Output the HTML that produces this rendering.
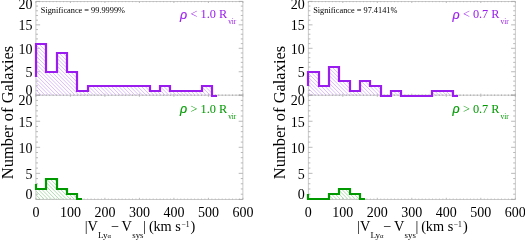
<!DOCTYPE html>
<html><head><meta charset="utf-8"><title>Histograms</title>
<style>
html,body{margin:0;padding:0;background:#fff;}
body{width:525px;height:240px;overflow:hidden;font-family:"Liberation Serif",serif;}
svg{display:block;will-change:transform;font-family:"Liberation Serif",serif;}
</style></head><body>
<svg width="525" height="240" viewBox="0 0 525 240">
<rect width="525" height="240" fill="#fff"/>
<g stroke="#bdbdbd" stroke-width="0.8" fill="none">
<rect x="35.90" y="1.40" width="207.00" height="198.00"/>
<line x1="35.90" y1="95.20" x2="242.90" y2="95.20"/>
<path stroke="#a8a8a8" d="M35.90 1.40v1.60M35.90 93.60v3.20M35.90 199.40v-1.60M39.35 1.40v0.80M39.35 94.40v1.60M39.35 199.40v-0.80M42.80 1.40v0.80M42.80 94.40v1.60M42.80 199.40v-0.80M46.25 1.40v0.80M46.25 94.40v1.60M46.25 199.40v-0.80M49.70 1.40v0.80M49.70 94.40v1.60M49.70 199.40v-0.80M53.15 1.40v0.80M53.15 94.40v1.60M53.15 199.40v-0.80M56.60 1.40v0.80M56.60 94.40v1.60M56.60 199.40v-0.80M60.05 1.40v0.80M60.05 94.40v1.60M60.05 199.40v-0.80M63.50 1.40v0.80M63.50 94.40v1.60M63.50 199.40v-0.80M66.95 1.40v0.80M66.95 94.40v1.60M66.95 199.40v-0.80M70.40 1.40v1.60M70.40 93.60v3.20M70.40 199.40v-1.60M73.85 1.40v0.80M73.85 94.40v1.60M73.85 199.40v-0.80M77.30 1.40v0.80M77.30 94.40v1.60M77.30 199.40v-0.80M80.75 1.40v0.80M80.75 94.40v1.60M80.75 199.40v-0.80M84.20 1.40v0.80M84.20 94.40v1.60M84.20 199.40v-0.80M87.65 1.40v0.80M87.65 94.40v1.60M87.65 199.40v-0.80M91.10 1.40v0.80M91.10 94.40v1.60M91.10 199.40v-0.80M94.55 1.40v0.80M94.55 94.40v1.60M94.55 199.40v-0.80M98.00 1.40v0.80M98.00 94.40v1.60M98.00 199.40v-0.80M101.45 1.40v0.80M101.45 94.40v1.60M101.45 199.40v-0.80M104.90 1.40v1.60M104.90 93.60v3.20M104.90 199.40v-1.60M108.35 1.40v0.80M108.35 94.40v1.60M108.35 199.40v-0.80M111.80 1.40v0.80M111.80 94.40v1.60M111.80 199.40v-0.80M115.25 1.40v0.80M115.25 94.40v1.60M115.25 199.40v-0.80M118.70 1.40v0.80M118.70 94.40v1.60M118.70 199.40v-0.80M122.15 1.40v0.80M122.15 94.40v1.60M122.15 199.40v-0.80M125.60 1.40v0.80M125.60 94.40v1.60M125.60 199.40v-0.80M129.05 1.40v0.80M129.05 94.40v1.60M129.05 199.40v-0.80M132.50 1.40v0.80M132.50 94.40v1.60M132.50 199.40v-0.80M135.95 1.40v0.80M135.95 94.40v1.60M135.95 199.40v-0.80M139.40 1.40v1.60M139.40 93.60v3.20M139.40 199.40v-1.60M142.85 1.40v0.80M142.85 94.40v1.60M142.85 199.40v-0.80M146.30 1.40v0.80M146.30 94.40v1.60M146.30 199.40v-0.80M149.75 1.40v0.80M149.75 94.40v1.60M149.75 199.40v-0.80M153.20 1.40v0.80M153.20 94.40v1.60M153.20 199.40v-0.80M156.65 1.40v0.80M156.65 94.40v1.60M156.65 199.40v-0.80M160.10 1.40v0.80M160.10 94.40v1.60M160.10 199.40v-0.80M163.55 1.40v0.80M163.55 94.40v1.60M163.55 199.40v-0.80M167.00 1.40v0.80M167.00 94.40v1.60M167.00 199.40v-0.80M170.45 1.40v0.80M170.45 94.40v1.60M170.45 199.40v-0.80M173.90 1.40v1.60M173.90 93.60v3.20M173.90 199.40v-1.60M177.35 1.40v0.80M177.35 94.40v1.60M177.35 199.40v-0.80M180.80 1.40v0.80M180.80 94.40v1.60M180.80 199.40v-0.80M184.25 1.40v0.80M184.25 94.40v1.60M184.25 199.40v-0.80M187.70 1.40v0.80M187.70 94.40v1.60M187.70 199.40v-0.80M191.15 1.40v0.80M191.15 94.40v1.60M191.15 199.40v-0.80M194.60 1.40v0.80M194.60 94.40v1.60M194.60 199.40v-0.80M198.05 1.40v0.80M198.05 94.40v1.60M198.05 199.40v-0.80M201.50 1.40v0.80M201.50 94.40v1.60M201.50 199.40v-0.80M204.95 1.40v0.80M204.95 94.40v1.60M204.95 199.40v-0.80M208.40 1.40v1.60M208.40 93.60v3.20M208.40 199.40v-1.60M211.85 1.40v0.80M211.85 94.40v1.60M211.85 199.40v-0.80M215.30 1.40v0.80M215.30 94.40v1.60M215.30 199.40v-0.80M218.75 1.40v0.80M218.75 94.40v1.60M218.75 199.40v-0.80M222.20 1.40v0.80M222.20 94.40v1.60M222.20 199.40v-0.80M225.65 1.40v0.80M225.65 94.40v1.60M225.65 199.40v-0.80M229.10 1.40v0.80M229.10 94.40v1.60M229.10 199.40v-0.80M232.55 1.40v0.80M232.55 94.40v1.60M232.55 199.40v-0.80M236.00 1.40v0.80M236.00 94.40v1.60M236.00 199.40v-0.80M239.45 1.40v0.80M239.45 94.40v1.60M239.45 199.40v-0.80M242.90 1.40v1.60M242.90 93.60v3.20M242.90 199.40v-1.60M35.90 95.20h4.20M242.90 95.20h-4.20M35.90 199.40h4.20M242.90 199.40h-4.20M35.90 90.51h2.10M242.90 90.51h-2.10M35.90 194.19h2.10M242.90 194.19h-2.10M35.90 85.82h2.10M242.90 85.82h-2.10M35.90 188.98h2.10M242.90 188.98h-2.10M35.90 81.13h2.10M242.90 81.13h-2.10M35.90 183.77h2.10M242.90 183.77h-2.10M35.90 76.44h2.10M242.90 76.44h-2.10M35.90 178.56h2.10M242.90 178.56h-2.10M35.90 71.75h4.20M242.90 71.75h-4.20M35.90 173.35h4.20M242.90 173.35h-4.20M35.90 67.06h2.10M242.90 67.06h-2.10M35.90 168.14h2.10M242.90 168.14h-2.10M35.90 62.37h2.10M242.90 62.37h-2.10M35.90 162.93h2.10M242.90 162.93h-2.10M35.90 57.68h2.10M242.90 57.68h-2.10M35.90 157.72h2.10M242.90 157.72h-2.10M35.90 52.99h2.10M242.90 52.99h-2.10M35.90 152.51h2.10M242.90 152.51h-2.10M35.90 48.30h4.20M242.90 48.30h-4.20M35.90 147.30h4.20M242.90 147.30h-4.20M35.90 43.61h2.10M242.90 43.61h-2.10M35.90 142.09h2.10M242.90 142.09h-2.10M35.90 38.92h2.10M242.90 38.92h-2.10M35.90 136.88h2.10M242.90 136.88h-2.10M35.90 34.23h2.10M242.90 34.23h-2.10M35.90 131.67h2.10M242.90 131.67h-2.10M35.90 29.54h2.10M242.90 29.54h-2.10M35.90 126.46h2.10M242.90 126.46h-2.10M35.90 24.85h4.20M242.90 24.85h-4.20M35.90 121.25h4.20M242.90 121.25h-4.20M35.90 20.16h2.10M242.90 20.16h-2.10M35.90 116.04h2.10M242.90 116.04h-2.10M35.90 15.47h2.10M242.90 15.47h-2.10M35.90 110.83h2.10M242.90 110.83h-2.10M35.90 10.78h2.10M242.90 10.78h-2.10M35.90 105.62h2.10M242.90 105.62h-2.10M35.90 6.09h2.10M242.90 6.09h-2.10M35.90 100.41h2.10M242.90 100.41h-2.10M35.90 1.40h4.20M242.90 1.40h-4.20M35.90 95.20h4.20M242.90 95.20h-4.20"/>
</g>
<clipPath id="Lt"><polygon points="35.90,95.20 35.90,43.61 35.90,43.61 46.25,43.61 46.25,71.75 56.60,71.75 56.60,52.99 66.95,52.99 66.95,71.75 77.30,71.75 77.30,90.51 87.65,90.51 87.65,85.82 149.75,85.82 149.75,90.51 160.10,90.51 160.10,85.82 170.45,85.82 170.45,90.51 201.50,90.51 201.50,85.82 211.85,85.82 211.85,95.20 217.03,95.20 217.03,95.20"/></clipPath><path d="M-22.49 42.61L31.10 96.20M-18.74 42.61L34.85 96.20M-14.99 42.61L38.60 96.20M-11.24 42.61L42.35 96.20M-7.49 42.61L46.10 96.20M-3.74 42.61L49.85 96.20M0.01 42.61L53.60 96.20M3.76 42.61L57.35 96.20M7.51 42.61L61.10 96.20M11.26 42.61L64.85 96.20M15.01 42.61L68.60 96.20M18.76 42.61L72.35 96.20M22.51 42.61L76.10 96.20M26.26 42.61L79.85 96.20M30.01 42.61L83.60 96.20M33.76 42.61L87.35 96.20M37.51 42.61L91.10 96.20M41.26 42.61L94.85 96.20M45.01 42.61L98.60 96.20M48.76 42.61L102.35 96.20M52.51 42.61L106.10 96.20M56.26 42.61L109.85 96.20M60.01 42.61L113.60 96.20M63.76 42.61L117.35 96.20M67.51 42.61L121.10 96.20M71.26 42.61L124.85 96.20M75.01 42.61L128.60 96.20M78.76 42.61L132.35 96.20M82.51 42.61L136.10 96.20M86.26 42.61L139.85 96.20M90.01 42.61L143.60 96.20M93.76 42.61L147.35 96.20M97.51 42.61L151.10 96.20M101.26 42.61L154.85 96.20M105.01 42.61L158.60 96.20M108.76 42.61L162.35 96.20M112.51 42.61L166.10 96.20M116.26 42.61L169.85 96.20M120.01 42.61L173.60 96.20M123.76 42.61L177.35 96.20M127.51 42.61L181.10 96.20M131.26 42.61L184.85 96.20M135.01 42.61L188.60 96.20M138.76 42.61L192.35 96.20M142.51 42.61L196.10 96.20M146.26 42.61L199.85 96.20M150.01 42.61L203.60 96.20M153.76 42.61L207.35 96.20M157.51 42.61L211.10 96.20M161.26 42.61L214.85 96.20M165.01 42.61L218.60 96.20M168.76 42.61L222.35 96.20M172.51 42.61L226.10 96.20M176.26 42.61L229.85 96.20M180.01 42.61L233.60 96.20M183.76 42.61L237.35 96.20M187.51 42.61L241.10 96.20M191.26 42.61L244.85 96.20M195.01 42.61L248.60 96.20M198.76 42.61L252.35 96.20M202.51 42.61L256.10 96.20M206.26 42.61L259.85 96.20M210.01 42.61L263.60 96.20M213.76 42.61L267.35 96.20M217.51 42.61L271.10 96.20M221.26 42.61L274.85 96.20" stroke="#D6B2F8" stroke-width="0.9" fill="none" clip-path="url(#Lt)"/><polyline points="36,77 36,44 46,44 46,72 57,72 57,53 67,53 67,72 77,72 77,91 88,91 88,86 150,86 150,91 160,91 160,86 170,86 170,91 202,91 202,86 212,86 212,96 217,96" fill="none" stroke="#9A1CEE" stroke-width="2.2" stroke-linejoin="miter" stroke-linecap="butt"/>
<clipPath id="Lb"><polygon points="35.90,199.40 35.90,188.98 35.90,188.98 46.25,188.98 46.25,178.56 56.60,178.56 56.60,188.98 66.95,188.98 66.95,194.19 77.30,194.19 77.30,199.40 82.47,199.40 82.47,199.40"/></clipPath><path d="M7.46 177.56L30.30 200.40M11.21 177.56L34.05 200.40M14.96 177.56L37.80 200.40M18.71 177.56L41.55 200.40M22.46 177.56L45.30 200.40M26.21 177.56L49.05 200.40M29.96 177.56L52.80 200.40M33.71 177.56L56.55 200.40M37.46 177.56L60.30 200.40M41.21 177.56L64.05 200.40M44.96 177.56L67.80 200.40M48.71 177.56L71.55 200.40M52.46 177.56L75.30 200.40M56.21 177.56L79.05 200.40M59.96 177.56L82.80 200.40M63.71 177.56L86.55 200.40M67.46 177.56L90.30 200.40M71.21 177.56L94.05 200.40M74.96 177.56L97.80 200.40M78.71 177.56L101.55 200.40M82.46 177.56L105.30 200.40M86.21 177.56L109.05 200.40" stroke="#A6D7A6" stroke-width="0.9" fill="none" clip-path="url(#Lb)"/><polyline points="36,184 36,189 46,189 46,179 57,179 57,189 67,189 67,194 77,194 77,199 82,199" fill="none" stroke="#009A00" stroke-width="2.2" stroke-linejoin="miter" stroke-linecap="butt"/>
<g font-size="14" text-anchor="end" fill="#000">
<text x="32.40" y="77.05">5</text>
<text x="32.40" y="178.65">5</text>
<text x="32.40" y="53.60">10</text>
<text x="32.40" y="152.60">10</text>
<text x="32.40" y="30.15">15</text>
<text x="32.40" y="126.55">15</text>
<text x="32.40" y="9.40">20</text>
<text x="32.40" y="95.40">0</text>
<text x="32.40" y="104.60">20</text>
<text x="32.40" y="199.00">0</text>
</g>
<g font-size="14" text-anchor="middle" fill="#000">
<text x="35.90" y="217.2">0</text>
<text x="70.40" y="217.2">100</text>
<text x="104.90" y="217.2">200</text>
<text x="139.40" y="217.2">300</text>
<text x="173.90" y="217.2">400</text>
<text x="208.40" y="217.2">500</text>
<text x="242.90" y="217.2">600</text>
</g>
<g fill="#000" font-size="14.3">
<text x="84.70" y="231.40">|V</text>
<text x="98.00" y="237.70" font-size="9.1">Ly</text>
<text x="107.60" y="237.70" font-size="6.6">α</text>
<text x="110.70" y="231.40">−</text>
<text x="121.60" y="231.40">V</text>
<text x="132.20" y="237.70" font-size="8.9">sys</text>
<text x="143.10" y="231.40">|</text>
<text x="148.90" y="231.40">(</text>
<text x="153.40" y="231.40">km s</text>
<text x="181.40" y="226.50" font-size="7.6">−1</text>
<text x="190.50" y="231.40">)</text>
</g>
<text transform="translate(13.00,112.50) rotate(-90)" font-size="16.45" text-anchor="middle" fill="#000">Number of Galaxies</text>
<text x="40.80" y="13.4" font-size="8.3" fill="#000">Significance = 99.9999%</text>
<g fill="#9A1CEE">
<text x="180.10" y="18.50" font-family="'Liberation Sans',sans-serif" font-style="italic" font-size="12.4" stroke="#9A1CEE" stroke-width="0.2">ρ</text>
<text x="190.50" y="18.30" font-size="12.3">&lt; 1.0 R</text>
<text x="228.20" y="24.20" font-size="7.3">vir</text>
</g>
<g fill="#009A00">
<text x="180.10" y="112.80" font-family="'Liberation Sans',sans-serif" font-style="italic" font-size="12.4" stroke="#009A00" stroke-width="0.2">ρ</text>
<text x="190.50" y="112.60" font-size="12.3">&gt; 1.0 R</text>
<text x="228.20" y="118.50" font-size="7.3">vir</text>
</g>
<g stroke="#bdbdbd" stroke-width="0.8" fill="none">
<rect x="308.30" y="1.40" width="207.00" height="198.00"/>
<line x1="308.30" y1="95.20" x2="515.30" y2="95.20"/>
<path stroke="#a8a8a8" d="M308.30 1.40v1.60M308.30 93.60v3.20M308.30 199.40v-1.60M311.75 1.40v0.80M311.75 94.40v1.60M311.75 199.40v-0.80M315.20 1.40v0.80M315.20 94.40v1.60M315.20 199.40v-0.80M318.65 1.40v0.80M318.65 94.40v1.60M318.65 199.40v-0.80M322.10 1.40v0.80M322.10 94.40v1.60M322.10 199.40v-0.80M325.55 1.40v0.80M325.55 94.40v1.60M325.55 199.40v-0.80M329.00 1.40v0.80M329.00 94.40v1.60M329.00 199.40v-0.80M332.45 1.40v0.80M332.45 94.40v1.60M332.45 199.40v-0.80M335.90 1.40v0.80M335.90 94.40v1.60M335.90 199.40v-0.80M339.35 1.40v0.80M339.35 94.40v1.60M339.35 199.40v-0.80M342.80 1.40v1.60M342.80 93.60v3.20M342.80 199.40v-1.60M346.25 1.40v0.80M346.25 94.40v1.60M346.25 199.40v-0.80M349.70 1.40v0.80M349.70 94.40v1.60M349.70 199.40v-0.80M353.15 1.40v0.80M353.15 94.40v1.60M353.15 199.40v-0.80M356.60 1.40v0.80M356.60 94.40v1.60M356.60 199.40v-0.80M360.05 1.40v0.80M360.05 94.40v1.60M360.05 199.40v-0.80M363.50 1.40v0.80M363.50 94.40v1.60M363.50 199.40v-0.80M366.95 1.40v0.80M366.95 94.40v1.60M366.95 199.40v-0.80M370.40 1.40v0.80M370.40 94.40v1.60M370.40 199.40v-0.80M373.85 1.40v0.80M373.85 94.40v1.60M373.85 199.40v-0.80M377.30 1.40v1.60M377.30 93.60v3.20M377.30 199.40v-1.60M380.75 1.40v0.80M380.75 94.40v1.60M380.75 199.40v-0.80M384.20 1.40v0.80M384.20 94.40v1.60M384.20 199.40v-0.80M387.65 1.40v0.80M387.65 94.40v1.60M387.65 199.40v-0.80M391.10 1.40v0.80M391.10 94.40v1.60M391.10 199.40v-0.80M394.55 1.40v0.80M394.55 94.40v1.60M394.55 199.40v-0.80M398.00 1.40v0.80M398.00 94.40v1.60M398.00 199.40v-0.80M401.45 1.40v0.80M401.45 94.40v1.60M401.45 199.40v-0.80M404.90 1.40v0.80M404.90 94.40v1.60M404.90 199.40v-0.80M408.35 1.40v0.80M408.35 94.40v1.60M408.35 199.40v-0.80M411.80 1.40v1.60M411.80 93.60v3.20M411.80 199.40v-1.60M415.25 1.40v0.80M415.25 94.40v1.60M415.25 199.40v-0.80M418.70 1.40v0.80M418.70 94.40v1.60M418.70 199.40v-0.80M422.15 1.40v0.80M422.15 94.40v1.60M422.15 199.40v-0.80M425.60 1.40v0.80M425.60 94.40v1.60M425.60 199.40v-0.80M429.05 1.40v0.80M429.05 94.40v1.60M429.05 199.40v-0.80M432.50 1.40v0.80M432.50 94.40v1.60M432.50 199.40v-0.80M435.95 1.40v0.80M435.95 94.40v1.60M435.95 199.40v-0.80M439.40 1.40v0.80M439.40 94.40v1.60M439.40 199.40v-0.80M442.85 1.40v0.80M442.85 94.40v1.60M442.85 199.40v-0.80M446.30 1.40v1.60M446.30 93.60v3.20M446.30 199.40v-1.60M449.75 1.40v0.80M449.75 94.40v1.60M449.75 199.40v-0.80M453.20 1.40v0.80M453.20 94.40v1.60M453.20 199.40v-0.80M456.65 1.40v0.80M456.65 94.40v1.60M456.65 199.40v-0.80M460.10 1.40v0.80M460.10 94.40v1.60M460.10 199.40v-0.80M463.55 1.40v0.80M463.55 94.40v1.60M463.55 199.40v-0.80M467.00 1.40v0.80M467.00 94.40v1.60M467.00 199.40v-0.80M470.45 1.40v0.80M470.45 94.40v1.60M470.45 199.40v-0.80M473.90 1.40v0.80M473.90 94.40v1.60M473.90 199.40v-0.80M477.35 1.40v0.80M477.35 94.40v1.60M477.35 199.40v-0.80M480.80 1.40v1.60M480.80 93.60v3.20M480.80 199.40v-1.60M484.25 1.40v0.80M484.25 94.40v1.60M484.25 199.40v-0.80M487.70 1.40v0.80M487.70 94.40v1.60M487.70 199.40v-0.80M491.15 1.40v0.80M491.15 94.40v1.60M491.15 199.40v-0.80M494.60 1.40v0.80M494.60 94.40v1.60M494.60 199.40v-0.80M498.05 1.40v0.80M498.05 94.40v1.60M498.05 199.40v-0.80M501.50 1.40v0.80M501.50 94.40v1.60M501.50 199.40v-0.80M504.95 1.40v0.80M504.95 94.40v1.60M504.95 199.40v-0.80M508.40 1.40v0.80M508.40 94.40v1.60M508.40 199.40v-0.80M511.85 1.40v0.80M511.85 94.40v1.60M511.85 199.40v-0.80M515.30 1.40v1.60M515.30 93.60v3.20M515.30 199.40v-1.60M308.30 95.20h4.20M515.30 95.20h-4.20M308.30 199.40h4.20M515.30 199.40h-4.20M308.30 90.51h2.10M515.30 90.51h-2.10M308.30 194.19h2.10M515.30 194.19h-2.10M308.30 85.82h2.10M515.30 85.82h-2.10M308.30 188.98h2.10M515.30 188.98h-2.10M308.30 81.13h2.10M515.30 81.13h-2.10M308.30 183.77h2.10M515.30 183.77h-2.10M308.30 76.44h2.10M515.30 76.44h-2.10M308.30 178.56h2.10M515.30 178.56h-2.10M308.30 71.75h4.20M515.30 71.75h-4.20M308.30 173.35h4.20M515.30 173.35h-4.20M308.30 67.06h2.10M515.30 67.06h-2.10M308.30 168.14h2.10M515.30 168.14h-2.10M308.30 62.37h2.10M515.30 62.37h-2.10M308.30 162.93h2.10M515.30 162.93h-2.10M308.30 57.68h2.10M515.30 57.68h-2.10M308.30 157.72h2.10M515.30 157.72h-2.10M308.30 52.99h2.10M515.30 52.99h-2.10M308.30 152.51h2.10M515.30 152.51h-2.10M308.30 48.30h4.20M515.30 48.30h-4.20M308.30 147.30h4.20M515.30 147.30h-4.20M308.30 43.61h2.10M515.30 43.61h-2.10M308.30 142.09h2.10M515.30 142.09h-2.10M308.30 38.92h2.10M515.30 38.92h-2.10M308.30 136.88h2.10M515.30 136.88h-2.10M308.30 34.23h2.10M515.30 34.23h-2.10M308.30 131.67h2.10M515.30 131.67h-2.10M308.30 29.54h2.10M515.30 29.54h-2.10M308.30 126.46h2.10M515.30 126.46h-2.10M308.30 24.85h4.20M515.30 24.85h-4.20M308.30 121.25h4.20M515.30 121.25h-4.20M308.30 20.16h2.10M515.30 20.16h-2.10M308.30 116.04h2.10M515.30 116.04h-2.10M308.30 15.47h2.10M515.30 15.47h-2.10M308.30 110.83h2.10M515.30 110.83h-2.10M308.30 10.78h2.10M515.30 10.78h-2.10M308.30 105.62h2.10M515.30 105.62h-2.10M308.30 6.09h2.10M515.30 6.09h-2.10M308.30 100.41h2.10M515.30 100.41h-2.10M308.30 1.40h4.20M515.30 1.40h-4.20M308.30 95.20h4.20M515.30 95.20h-4.20"/>
</g>
<clipPath id="Rt"><polygon points="308.30,95.20 308.30,71.75 308.30,71.75 318.65,71.75 318.65,85.82 329.00,85.82 329.00,67.06 339.35,67.06 339.35,81.13 349.70,81.13 349.70,90.51 360.05,90.51 360.05,81.13 370.40,81.13 370.40,85.82 380.75,85.82 380.75,95.20 391.10,95.20 391.10,90.51 401.45,90.51 401.45,95.20 432.50,95.20 432.50,90.51 453.20,90.51 453.20,95.20 458.38,95.20 458.38,95.20"/></clipPath><path d="M274.71 66.06L304.85 96.20M278.46 66.06L308.60 96.20M282.21 66.06L312.35 96.20M285.96 66.06L316.10 96.20M289.71 66.06L319.85 96.20M293.46 66.06L323.60 96.20M297.21 66.06L327.35 96.20M300.96 66.06L331.10 96.20M304.71 66.06L334.85 96.20M308.46 66.06L338.60 96.20M312.21 66.06L342.35 96.20M315.96 66.06L346.10 96.20M319.71 66.06L349.85 96.20M323.46 66.06L353.60 96.20M327.21 66.06L357.35 96.20M330.96 66.06L361.10 96.20M334.71 66.06L364.85 96.20M338.46 66.06L368.60 96.20M342.21 66.06L372.35 96.20M345.96 66.06L376.10 96.20M349.71 66.06L379.85 96.20M353.46 66.06L383.60 96.20M357.21 66.06L387.35 96.20M360.96 66.06L391.10 96.20M364.71 66.06L394.85 96.20M368.46 66.06L398.60 96.20M372.21 66.06L402.35 96.20M375.96 66.06L406.10 96.20M379.71 66.06L409.85 96.20M383.46 66.06L413.60 96.20M387.21 66.06L417.35 96.20M390.96 66.06L421.10 96.20M394.71 66.06L424.85 96.20M398.46 66.06L428.60 96.20M402.21 66.06L432.35 96.20M405.96 66.06L436.10 96.20M409.71 66.06L439.85 96.20M413.46 66.06L443.60 96.20M417.21 66.06L447.35 96.20M420.96 66.06L451.10 96.20M424.71 66.06L454.85 96.20M428.46 66.06L458.60 96.20M432.21 66.06L462.35 96.20M435.96 66.06L466.10 96.20M439.71 66.06L469.85 96.20M443.46 66.06L473.60 96.20M447.21 66.06L477.35 96.20M450.96 66.06L481.10 96.20M454.71 66.06L484.85 96.20M458.46 66.06L488.60 96.20M462.21 66.06L492.35 96.20" stroke="#D6B2F8" stroke-width="0.9" fill="none" clip-path="url(#Rt)"/><polyline points="308,86 308,72 319,72 319,86 329,86 329,67 339,67 339,81 350,81 350,91 360,91 360,81 370,81 370,86 381,86 381,96 391,96 391,91 401,91 401,96 432,96 432,91 453,91 453,96 458,96" fill="none" stroke="#9A1CEE" stroke-width="2.2" stroke-linejoin="miter" stroke-linecap="butt"/>
<clipPath id="Rb"><polygon points="308.30,199.40 308.30,199.40 308.30,199.40 329.00,199.40 329.00,194.19 339.35,194.19 339.35,188.98 349.70,188.98 349.70,194.19 360.05,194.19 360.05,199.40 365.23,199.40 365.23,199.40"/></clipPath><path d="M291.63 187.98L304.05 200.40M295.38 187.98L307.80 200.40M299.13 187.98L311.55 200.40M302.88 187.98L315.30 200.40M306.63 187.98L319.05 200.40M310.38 187.98L322.80 200.40M314.13 187.98L326.55 200.40M317.88 187.98L330.30 200.40M321.63 187.98L334.05 200.40M325.38 187.98L337.80 200.40M329.13 187.98L341.55 200.40M332.88 187.98L345.30 200.40M336.63 187.98L349.05 200.40M340.38 187.98L352.80 200.40M344.13 187.98L356.55 200.40M347.88 187.98L360.30 200.40M351.63 187.98L364.05 200.40M355.38 187.98L367.80 200.40M359.13 187.98L371.55 200.40M362.88 187.98L375.30 200.40M366.63 187.98L379.05 200.40M370.38 187.98L382.80 200.40" stroke="#A6D7A6" stroke-width="0.9" fill="none" clip-path="url(#Rb)"/><polyline points="308,194 308,199 329,199 329,194 339,194 339,189 350,189 350,194 360,194 360,199 365,199" fill="none" stroke="#009A00" stroke-width="2.2" stroke-linejoin="miter" stroke-linecap="butt"/>
<g font-size="14" text-anchor="end" fill="#000">
<text x="304.80" y="77.05">5</text>
<text x="304.80" y="178.65">5</text>
<text x="304.80" y="53.60">10</text>
<text x="304.80" y="152.60">10</text>
<text x="304.80" y="30.15">15</text>
<text x="304.80" y="126.55">15</text>
<text x="304.80" y="9.40">20</text>
<text x="304.80" y="95.40">0</text>
<text x="304.80" y="104.60">20</text>
<text x="304.80" y="199.00">0</text>
</g>
<g font-size="14" text-anchor="middle" fill="#000">
<text x="308.30" y="217.2">0</text>
<text x="342.80" y="217.2">100</text>
<text x="377.30" y="217.2">200</text>
<text x="411.80" y="217.2">300</text>
<text x="446.30" y="217.2">400</text>
<text x="480.80" y="217.2">500</text>
<text x="515.30" y="217.2">600</text>
</g>
<g fill="#000" font-size="14.3">
<text x="357.10" y="231.40">|V</text>
<text x="370.40" y="237.70" font-size="9.1">Ly</text>
<text x="380.00" y="237.70" font-size="6.6">α</text>
<text x="383.10" y="231.40">−</text>
<text x="394.00" y="231.40">V</text>
<text x="404.60" y="237.70" font-size="8.9">sys</text>
<text x="415.50" y="231.40">|</text>
<text x="421.30" y="231.40">(</text>
<text x="425.80" y="231.40">km s</text>
<text x="453.80" y="226.50" font-size="7.6">−1</text>
<text x="462.90" y="231.40">)</text>
</g>
<text transform="translate(285.40,112.50) rotate(-90)" font-size="16.45" text-anchor="middle" fill="#000">Number of Galaxies</text>
<text x="313.20" y="13.4" font-size="8.3" fill="#000">Significance = 97.4141%</text>
<g fill="#9A1CEE">
<text x="452.50" y="18.50" font-family="'Liberation Sans',sans-serif" font-style="italic" font-size="12.4" stroke="#9A1CEE" stroke-width="0.2">ρ</text>
<text x="462.90" y="18.30" font-size="12.3">&lt; 0.7 R</text>
<text x="500.60" y="24.20" font-size="7.3">vir</text>
</g>
<g fill="#009A00">
<text x="452.50" y="112.80" font-family="'Liberation Sans',sans-serif" font-style="italic" font-size="12.4" stroke="#009A00" stroke-width="0.2">ρ</text>
<text x="462.90" y="112.60" font-size="12.3">&gt; 0.7 R</text>
<text x="500.60" y="118.50" font-size="7.3">vir</text>
</g>
</svg>
</body></html>
